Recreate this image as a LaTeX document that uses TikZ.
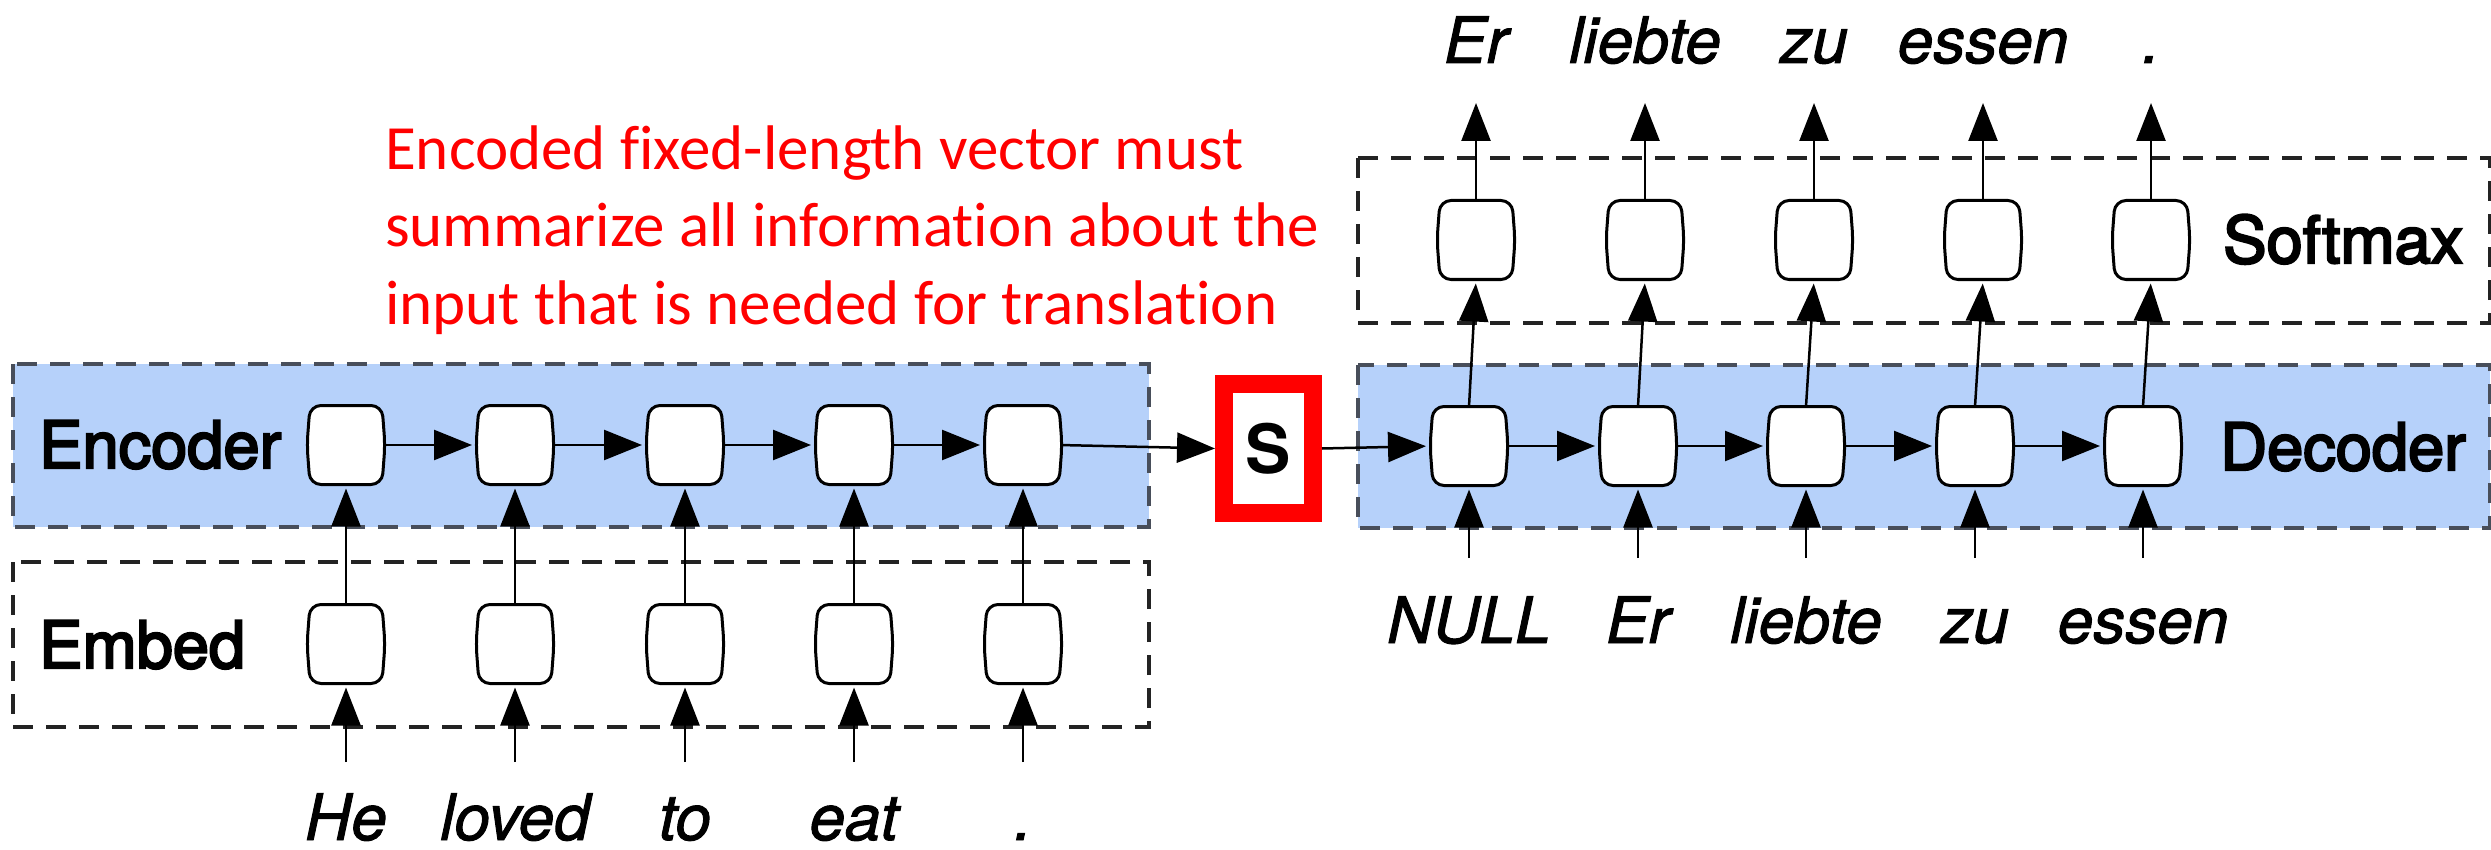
\documentclass[tikz,border=0pt]{standalone}
\usepackage{fontspec}
\newfontfamily\helv[FakeBold=3.5]{TeX Gyre Heros}
\newfontfamily\helvw[FakeBold=1.5]{TeX Gyre Heros}
\newfontfamily\helvS{TeX Gyre Heros}
\newfontfamily\calib[Ligatures=NoCommon]{Carlito}
\usetikzlibrary{arrows.meta}
\definecolor{encblue}{RGB}{182,209,250}
\definecolor{bluedash}{RGB}{72,78,90}
\definecolor{blackdash}{RGB}{35,35,35}
\definecolor{alertred}{RGB}{255,0,0}
\newcommand{\barrelcell}[1]{%
  \draw[cellline] (#1.north) -- (#1.north east) -- ([xshift=3pt]#1.east) -- (#1.south east) -- (#1.south west) -- ([xshift=-3pt]#1.west) -- (#1.north west) -- cycle;}
\begin{document}
\begin{tikzpicture}[x=1pt,y=-1pt,
  cell/.style={rectangle,minimum width=72pt,minimum height=79pt,inner sep=0pt,outer sep=0pt},
  cellline/.style={line width=3pt,draw=black,fill=white,rounded corners=11pt},
  hconn/.style={line width=2.5pt,-{Triangle[length=38pt,width=30pt]},shorten >=7pt},
  vconn/.style={line width=2.5pt,-{Triangle[length=38pt,width=29pt]},shorten >=4pt},
  bluebox/.style={fill=encblue,draw=bluedash,line width=3.5pt,dash pattern=on 20pt off 13pt},
  whitebox/.style={draw=blackdash,line width=3.5pt,dash pattern=on 20pt off 13pt},
  lab/.style={font=\helv\fontsize{65}{78}\selectfont,anchor=base west,inner sep=0pt},
  word/.style={font=\helvw\itshape\fontsize{64}{77}\selectfont,anchor=base,inner sep=0pt},
  note/.style={font=\calib\fontsize{63}{77}\selectfont,text=alertred,anchor=base west,inner sep=0pt},
]
\useasboundingbox (0,0) rectangle (2491,850);

% layer boxes
\draw[bluebox] (13,364) rectangle (1149,527);
\draw[whitebox] (13,562) rectangle (1149,727);
\draw[bluebox] (1358,365) rectangle (2490,528);
\draw[whitebox] (1358,158) rectangle (2490,323);

% labels
\node[lab] (encl) at (39,468) {Encoder};
\node[lab] (embl) at (39,668) {Embed};
\node[lab] (decl) at (2220,470) {Decoder};
\node[lab] (softl) at (2223,263) {Softmax};

% red note
\node[note] (r1) at (385,170) {Encoded fixed-length vector must};
\node[note] (r2) at (385,247) {summarize all information about the};
\node[note] (r3) at (385,324) {input that is needed for translation};

% encoder side
\foreach \x/\w [count=\i] in {346/He,515/loved,685/to,854/eat,1023/.}{
  \node[cell] (e\i) at (\x,445) {};
  \node[cell] (m\i) at (\x,644) {};
  \coordinate (in\i) at (\x,762);
  \node[word] (iw\i) at (\x,840) {\w};
}

% decoder side
\foreach \x/\w [count=\i] in {1469/NULL,1638/Er,1806/liebte,1975/zu,2143/essen}{
  \node[cell] (d\i) at (\x,446) {};
  \coordinate (din\i) at (\x,558);
  \node[word] (dw\i) at (\x,643) {\w};
}
\foreach \x/\w [count=\i] in {1476/Er,1645/liebte,1814/zu,1983/essen,2151/.}{
  \node[cell] (s\i) at (\x,240) {};
  \coordinate (out\i) at (\x,103);
  \node[word] (ow\i) at (\x,63) {\w};
}

% context vector
\node[draw=alertred,fill=white,line width=18pt,minimum width=89pt,minimum height=129pt,
      inner sep=0pt,outer sep=9pt,font=\helvS\bfseries\fontsize{68}{80}\selectfont] (S) at (1268.5,448.5) {S};

% connectors
\foreach \i in {1,...,5}{
  \draw[vconn] (in\i) -- (m\i.south);
  \draw[vconn] (m\i.north) -- (e\i.south);
  \draw[vconn] (din\i) -- (d\i.south);
  \draw[vconn] (d\i.north) -- (s\i.south);
  \draw[vconn,shorten >=0pt] (s\i.north) -- (out\i);
}
\foreach \i/\j in {1/2,2/3,3/4,4/5}{
  \draw[hconn] (e\i.east) -- (e\j.west);
  \draw[hconn] (d\i.east) -- (d\j.west);
}
\draw[hconn,shorten >=0pt] (e5.east) -- (S.west);
\draw[hconn] (S.east) -- (d1.west);

% cell outlines
\foreach \i in {1,...,5}{
  \barrelcell{e\i}
  \barrelcell{m\i}
  \barrelcell{d\i}
  \barrelcell{s\i}
}
\end{tikzpicture}
\end{document}
